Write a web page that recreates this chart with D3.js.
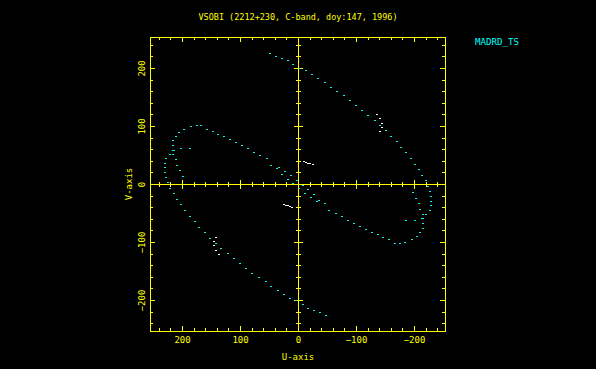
<!DOCTYPE html>
<html>
<head>
<meta charset="utf-8">
<script src="https://cdn.jsdelivr.net/npm/d3@7"></script>
<style>
html,body{margin:0;padding:0;background:#000;}
svg{display:block;}
text{font-family:"DejaVu Sans Mono",monospace;}
</style>
</head>
<body>
<svg id="c" width="596" height="369"></svg>
<script>
// ---- data (one half of the UV track; conjugate points (-u,-v) are also plotted) ----
const titleText = "VSOBI (2212+230, C-band, doy:147, 1996)";
const legendLabel = "MADRD_TS";
const xLabel = "U-axis";
const yLabel = "V-axis";
const majorTicks = [200, 100, 0, -100, -200];

const trackU = [48,38,28,18,8,-3,-13,-24,-35,-47,-56,-68,-79,-90,-100,-111,-121,-132,-141,-152,-160,-170,-178,-187,-195,-202,-209,-214,-220,-224,-228,-230,-230,-229,-227,-221,-216,-216,-215,-211,-205,-197,-184,-175,-168,-157,-147,-138,-127,-117,-107,-97,-86,-76,-65,-54];
const trackV = [225,221,217,213,207,200,196,189,182,175,168,160,153,145,136,128,119,110,102,93,83,74,64,55,45,35,25,16,7,-3,-12,-21,-29,-37,-45,-52,-59,-67,-76,-83,-89,-94,-100,-101,-101,-95,-91,-87,-83,-78,-73,-68,-62,-56,-50,-44];

const innerU = [-198,-203,-208,-211,-215,-214,-186,-202,-47,-36,-32,-28,-22,-18,-12,-8,-2];
const innerV = [-14,-24,-33,-43,-52,-58,-62,-62,-33,-27,-30,-18,-22,-9,-15,-2,-7];

const whiteU = [-10,-14,-18,-21,-25,-136,-141,-144,-144,-142];
const whiteV = [39,38,37,36,34,120,113,106,99,91];

// ---- layout ----
const svg = d3.select("#c");
const L = 150, R = 445, T = 37, B = 331;
const x = d3.scaleLinear().domain([255.2, -253.4]).range([L, R]);
const y = d3.scaleLinear().domain([253.4, -253.4]).range([T, B]);
const YEL = "#ffff00";

svg.append("rect").attr("width",596).attr("height",369).attr("fill","#000");

const minorX = d3.range(-240, 241, 20);
const minorY = d3.range(-240, 241, 20);

function styleAxis(g){
  g.selectAll("path.domain").remove();
  g.selectAll("line").attr("stroke", YEL).attr("stroke-width",1).attr("shape-rendering","crispEdges");
  g.selectAll("text").attr("fill", YEL).style("font-size","9px").attr("font-family","DejaVu Sans Mono, monospace");
}
function fmt(d){ return d < 0 ? "\u2212" + Math.abs(d) : String(d); }

// bottom frame
svg.append("g").attr("transform",`translate(0,${B})`)
  .call(d3.axisBottom(x).tickValues(minorX).tickSizeInner(-3).tickSizeOuter(0).tickFormat(""))
  .call(styleAxis);
svg.append("g").attr("transform",`translate(0,${B})`)
  .call(d3.axisBottom(x).tickValues(majorTicks).tickSizeInner(-5).tickSizeOuter(0).tickPadding(6).tickFormat(fmt))
  .call(styleAxis);
// top frame
svg.append("g").attr("transform",`translate(0,${T})`)
  .call(d3.axisTop(x).tickValues(minorX).tickSizeInner(-3).tickSizeOuter(0).tickFormat(""))
  .call(styleAxis);
svg.append("g").attr("transform",`translate(0,${T})`)
  .call(d3.axisTop(x).tickValues(majorTicks).tickSizeInner(-5).tickSizeOuter(0).tickFormat(""))
  .call(styleAxis);
// left frame
svg.append("g").attr("transform",`translate(${L},0)`)
  .call(d3.axisLeft(y).tickValues(minorY).tickSizeInner(-3).tickSizeOuter(0).tickFormat(""))
  .call(styleAxis);
const leftMaj = svg.append("g").attr("transform",`translate(${L},0)`)
  .call(d3.axisLeft(y).tickValues(majorTicks).tickSizeInner(-5).tickSizeOuter(0).tickFormat(fmt))
  .call(styleAxis);
leftMaj.selectAll("text")
  .attr("x",null).attr("dy",null).attr("y",null)
  .attr("text-anchor","middle")
  .attr("transform","translate(-5,0) rotate(-90)");
// right frame
svg.append("g").attr("transform",`translate(${R},0)`)
  .call(d3.axisRight(y).tickValues(minorY).tickSizeInner(-3).tickSizeOuter(0).tickFormat(""))
  .call(styleAxis);
svg.append("g").attr("transform",`translate(${R},0)`)
  .call(d3.axisRight(y).tickValues(majorTicks).tickSizeInner(-5).tickSizeOuter(0).tickFormat(""))
  .call(styleAxis);

// frame box
svg.append("rect").attr("x",L).attr("y",T).attr("width",R-L).attr("height",B-T)
  .attr("fill","none").attr("stroke",YEL).attr("stroke-width",1).attr("shape-rendering","crispEdges");

// central axes
svg.append("line").attr("x1",L).attr("x2",R).attr("y1",y(0)).attr("y2",y(0))
  .attr("stroke",YEL).attr("shape-rendering","crispEdges");
svg.append("line").attr("y1",T).attr("y2",B).attr("x1",x(0)).attr("x2",x(0))
  .attr("stroke",YEL).attr("shape-rendering","crispEdges");
svg.append("g").attr("transform",`translate(0,${y(0)-2.5})`)
  .call(d3.axisBottom(x).tickValues(minorX).tickSize(5).tickSizeOuter(0).tickFormat(""))
  .call(styleAxis);
svg.append("g").attr("transform",`translate(0,${y(0)-4.5})`)
  .call(d3.axisBottom(x).tickValues(majorTicks).tickSize(9).tickSizeOuter(0).tickFormat(""))
  .call(styleAxis);
svg.append("g").attr("transform",`translate(${x(0)-2.5},0)`)
  .call(d3.axisRight(y).tickValues(minorY).tickSize(5).tickSizeOuter(0).tickFormat(""))
  .call(styleAxis);
svg.append("g").attr("transform",`translate(${x(0)-4.5},0)`)
  .call(d3.axisRight(y).tickValues(majorTicks).tickSize(9).tickSizeOuter(0).tickFormat(""))
  .call(styleAxis);

// points (with conjugates)
function pts(us, vs){
  const out = [];
  us.forEach((u,i)=>{ out.push([u, vs[i]]); out.push([-u, -vs[i]]); });
  return out;
}
const plot = svg.append("g").attr("shape-rendering","crispEdges");
plot.selectAll("rect.cy").data(pts(trackU,trackV).concat(pts(innerU,innerV))).join("rect")
  .attr("class","cy")
  .attr("x", d => Math.round(x(d[0]) - 1)).attr("y", d => Math.round(y(d[1])))
  .attr("width",2).attr("height",1).attr("fill","#10f0f0");
plot.selectAll("rect.wh").data(pts(whiteU,whiteV)).join("rect")
  .attr("class","wh")
  .attr("x", d => Math.round(x(d[0]) - 1)).attr("y", d => Math.round(y(d[1])))
  .attr("width",2).attr("height",1).attr("fill","#ffffff");

// texts
svg.append("text").attr("x",298).attr("y",20).attr("text-anchor","middle")
  .attr("fill",YEL).style("font-size","9px").attr("textLength",199).attr("lengthAdjust","spacingAndGlyphs")
  .text(titleText);
svg.append("text").attr("x",298).attr("y",360).attr("text-anchor","middle")
  .attr("fill",YEL).style("font-size","9px").text(xLabel);
svg.append("text").attr("transform","translate(131.5,184) rotate(-90)").attr("text-anchor","middle")
  .attr("fill",YEL).style("font-size","9px").text(yLabel);
svg.append("text").attr("x",475).attr("y",45)
  .attr("fill","#00ffff").style("font-size","9px").attr("textLength",44).attr("lengthAdjust","spacingAndGlyphs")
  .text(legendLabel);
</script>
</body>
</html>
